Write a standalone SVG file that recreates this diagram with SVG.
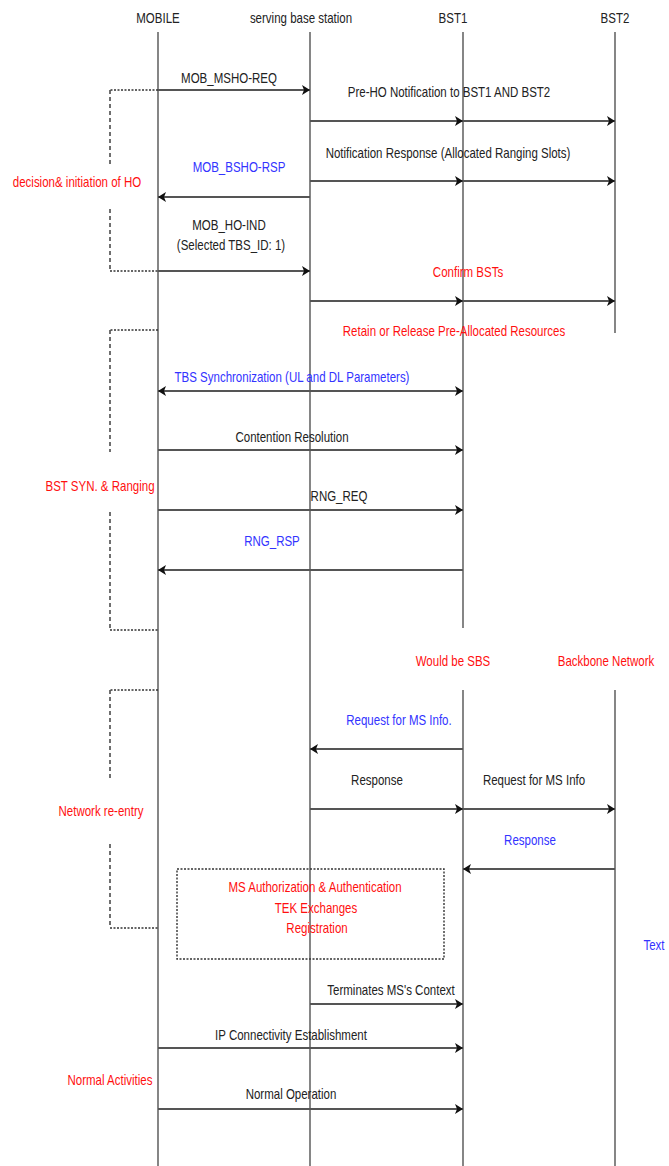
<svg xmlns="http://www.w3.org/2000/svg" width="669" height="1166" viewBox="0 0 669 1166">
<style>
.t{font-family:"Liberation Sans",Arial,sans-serif;font-size:11.5px;text-anchor:middle;dominant-baseline:central;fill:#222}
.red{fill:#FF1010}
.blue{fill:#3333FF}
.life{stroke:#444;stroke-width:1.3;fill:none}
.msg{stroke:#555;stroke-width:2.2;fill:none;marker-end:url(#ah)}
.brkv{stroke:#333;stroke-width:1.4;fill:none;stroke-dasharray:4 3}
.brkh{stroke:#333;stroke-width:1.6;fill:none;stroke-dasharray:2 1.5}
.box{stroke:#333;stroke-width:1.4;fill:none;stroke-dasharray:2 1.5}
.bg{fill:#fff}
</style>
<defs>
<marker id="ah" markerWidth="9" markerHeight="10" refX="8" refY="5" orient="auto-start-reverse" markerUnits="userSpaceOnUse">
<path d="M0,0 L8,5 L0,10 L2,5 z" fill="#111"/>
</marker>
</defs>
<rect width="669" height="1166" fill="#fff"/>

<g id="lifelines">
<line class="life" x1="158" y1="32" x2="158" y2="1166"/>
<line class="life" x1="310" y1="32" x2="310" y2="1166" stroke-width="1"/>
<line class="life" x1="463" y1="32" x2="463" y2="628"/>
<line class="life" x1="615" y1="32" x2="615" y2="333"/>
<line class="life" x1="463" y1="690" x2="463" y2="1166"/>
<line class="life" x1="615" y1="690" x2="615" y2="1166"/>
</g>

<g id="brackets">
<path class="brkh" d="M158,90 H110 M110,271 H158"/>
<path class="brkv" d="M110,90 V271"/>
<path class="brkh" d="M158,330 H110 M110,630 H158"/>
<path class="brkv" d="M110,330 V630"/>
<path class="brkh" d="M158,690 H110 M110,928 H158"/>
<path class="brkv" d="M110,690 V928"/>
</g>

<g id="connectors">
<line class="msg" x1="158" y1="90" x2="310" y2="90"/>
<line class="msg" x1="310" y1="121" x2="463" y2="121"/>
<line class="msg" x1="463" y1="121" x2="615" y2="121"/>
<line class="msg" x1="310" y1="181" x2="463" y2="181"/>
<line class="msg" x1="463" y1="181" x2="615" y2="181"/>
<line class="msg" x1="310" y1="197" x2="158" y2="197"/>
<line class="msg" x1="158" y1="271" x2="310" y2="271"/>
<line class="msg" x1="310" y1="301" x2="463" y2="301"/>
<line class="msg" x1="463" y1="301" x2="615" y2="301"/>
<line class="msg" x1="158" y1="391" x2="463" y2="391" style="marker-start:url(#ah)"/>
<line class="msg" x1="158" y1="450" x2="463" y2="450"/>
<line class="msg" x1="158" y1="510" x2="463" y2="510"/>
<line class="msg" x1="463" y1="570" x2="158" y2="570"/>
<line class="msg" x1="463" y1="749" x2="310" y2="749"/>
<line class="msg" x1="310" y1="809" x2="463" y2="809"/>
<line class="msg" x1="463" y1="809" x2="615" y2="809"/>
<line class="msg" x1="615" y1="869" x2="463" y2="869"/>
<line class="msg" x1="310" y1="1004" x2="463" y2="1004"/>
<line class="msg" x1="158" y1="1048" x2="463" y2="1048"/>
<line class="msg" x1="158" y1="1109" x2="463" y2="1109"/>
</g>

<g id="header-mobile"><text class="t" transform="translate(158 18) scale(1 1.35)">MOBILE</text></g>
<g id="header-serving"><text class="t" transform="translate(301 18) scale(1 1.35)">serving base station</text></g>
<g id="header-bst1"><text class="t" transform="translate(453 18) scale(1 1.35)">BST1</text></g>
<g id="header-bst2"><text class="t" transform="translate(615 18) scale(1 1.35)">BST2</text></g>

<g id="label-decision">
<rect class="bg" x="10" y="164" width="134" height="42"/>
<text class="t red" transform="translate(77 182) scale(1 1.35)">decision&amp; initiation of HO</text>
</g>
<g id="label-bstsyn">
<rect class="bg" x="44" y="452" width="112" height="58"/>
<text class="t red" transform="translate(100 486) scale(1 1.35)">BST SYN. &amp; Ranging</text>
</g>
<g id="label-reentry">
<rect class="bg" x="56" y="781" width="90" height="62"/>
<text class="t red" transform="translate(101 811) scale(1 1.35)">Network re-entry</text>
</g>
<g id="label-normal">
<text class="t red" transform="translate(110 1080) scale(1 1.35)">Normal Activities</text>
</g>

<g id="msg-labels">
<text class="t" transform="translate(229 78) scale(1 1.35)">MOB_MSHO-REQ</text>
<text class="t" transform="translate(449 92) scale(1 1.35)">Pre-HO Notification to BST1 AND BST2</text>
<text class="t" transform="translate(448 153) scale(1 1.35)">Notification Response (Allocated Ranging Slots)</text>
<text class="t blue" transform="translate(239 167) scale(1 1.35)">MOB_BSHO-RSP</text>
<text class="t" transform="translate(229 225) scale(1 1.35)">MOB_HO-IND</text>
<text class="t" transform="translate(231 245) scale(1 1.35)">(Selected TBS_ID: 1)</text>
<text class="t red" transform="translate(468 272) scale(1 1.35)">Confirm BSTs</text>
<text class="t red" transform="translate(454 331) scale(1 1.35)">Retain or Release Pre-Allocated Resources</text>
<text class="t blue" transform="translate(292 377) scale(1 1.35)">TBS Synchronization (UL and DL Parameters)</text>
<text class="t" transform="translate(292 437) scale(1 1.35)">Contention Resolution</text>
<text class="t" transform="translate(339 496) scale(1 1.35)">RNG_REQ</text>
<text class="t blue" transform="translate(272 541) scale(1 1.35)">RNG_RSP</text>
<text class="t red" transform="translate(453 661) scale(1 1.35)">Would be SBS</text>
<text class="t red" transform="translate(606 661) scale(1 1.35)">Backbone Network</text>
<text class="t blue" transform="translate(399 720) scale(1 1.35)">Request for MS Info.</text>
<text class="t" transform="translate(377 780) scale(1 1.35)">Response</text>
<text class="t" transform="translate(534 780) scale(1 1.35)">Request for MS Info</text>
<text class="t blue" transform="translate(530 840) scale(1 1.35)">Response</text>
<text class="t blue" transform="translate(654 945) scale(1 1.35)">Text</text>
<text class="t" transform="translate(391 990) scale(1 1.35)">Terminates MS's Context</text>
<text class="t" transform="translate(291 1035) scale(1 1.35)">IP Connectivity Establishment</text>
<text class="t" transform="translate(291 1094) scale(1 1.35)">Normal Operation</text>
</g>

<g id="auth-box">
<rect class="box" x="177" y="869" width="267" height="90"/>
<text class="t red" transform="translate(315 887) scale(1 1.35)">MS Authorization &amp; Authentication</text>
<text class="t red" transform="translate(316 908) scale(1 1.35)">TEK Exchanges</text>
<text class="t red" transform="translate(317 928) scale(1 1.35)">Registration</text>
</g>
</svg>
